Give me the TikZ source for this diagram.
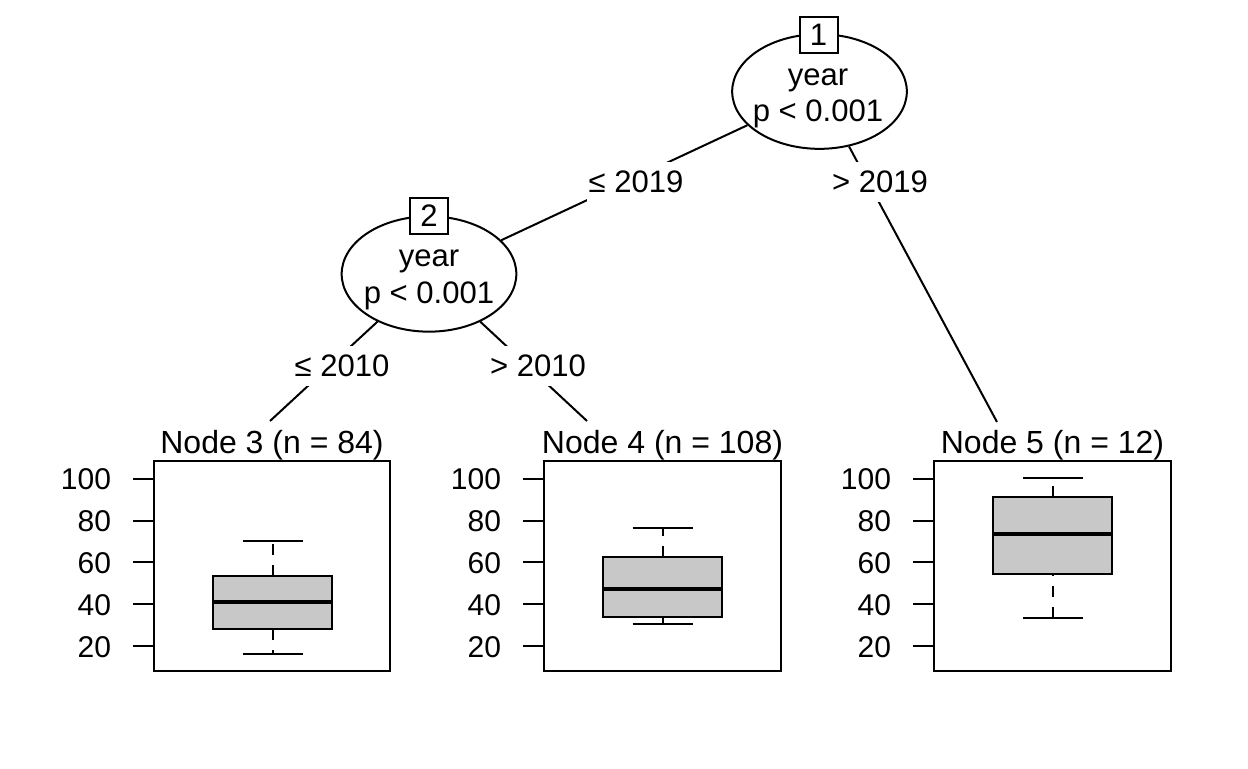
\documentclass[tikz,border=0pt]{standalone}
\usepackage{fontspec}
\setmainfont{Liberation Sans}
\usetikzlibrary{shapes.geometric}

\begin{document}
\begin{tikzpicture}[x=0.75pt,y=0.75pt,yscale=-1,xscale=1,
  font=\fontsize{23.3}{27}\selectfont, line width=1.5pt,
  split/.style={draw, ellipse, fill=white, minimum width=131pt, minimum height=86pt, inner sep=0pt},
  idbox/.style={draw, fill=white, minimum width=28.5pt, minimum height=27pt, inner sep=0pt},
  edgelab/.style={fill=white, inner xsep=1pt, inner ysep=0pt, minimum height=30pt},
  txt/.style={inner sep=0pt, anchor=base},
  title/.style={inner sep=0pt, anchor=base, font=\fontsize{24}{28}\selectfont},
  ticklab/.style={inner sep=0pt, anchor=east, font=\fontsize{22.5}{27}\selectfont},
  boxfill/.style={fill={rgb, 255:red, 200; green, 200; blue, 200 }},
  whisk/.style={dash pattern={on 8.25pt off 7.5pt}}
]
  \useasboundingbox (0,0) rectangle (1248,768);

  %Shape: Ellipse [id:node1]
  \node [split] (n1) at (819.5,91.5) {};
  \node [idbox] (id1) at (818.5,35) {1};
  %Shape: Ellipse [id:node2]
  \node [split, minimum height=86.5pt] (n2) at (429,274) {};
  \node [idbox] (id2) at (429,216) {2};

  %Coordinates: tops of terminal nodes
  \coordinate (t3) at (270,421);
  \coordinate (t4) at (587,421);
  \coordinate (t5) at (997,422);

  %Straight Lines [id:edges]
  \draw (n1) -- (n2);
  \draw (n1) -- (t5);
  \draw (n2) -- (t3);
  \draw (n2) -- (t4);

  % Text Node
  \node [txt] (v1) at (818,85) {year};
  % Text Node
  \node [txt] (p1) at (818,121) {p < 0.001};
  % Text Node
  \node [txt] (v2) at (429,266) {year};
  % Text Node
  \node [txt] (p2) at (429,303) {p < 0.001};

  % Text Node
  \node [edgelab] (e12) at (636,182) {≤ 2019};
  % Text Node
  \node [edgelab] (e15) at (880,182) {> 2019};
  % Text Node
  \node [edgelab] (e23) at (342,366) {≤ 2010};
  % Text Node
  \node [edgelab] (e24) at (538,366) {> 2010};

  %Shape: Rectangle [id:panel3]
  \draw (154,461) rectangle (390,671);
  \draw (154,478.6) -- (133,478.6) (154,520.5) -- (133,520.5) (154,562.3) -- (133,562.3) (154,604.1) -- (133,604.1) (154,646) -- (133,646);
  \node [ticklab] (a3a) at (112,479.6) {100};
  \node [ticklab] (a3b) at (112,521.5) {80};
  \node [ticklab] (a3c) at (112,563.3) {60};
  \node [ticklab] (a3d) at (112,605.1) {40};
  \node [ticklab] (a3e) at (112,647) {20};
  \draw [whisk] (272.5,576) -- (272.5,541);
  \draw [whisk] (272.5,629.3) -- (272.5,654);
  \draw (242.5,541) -- (302.5,541) (242.5,654) -- (302.5,654);
  \draw [boxfill] (213,576) rectangle (332,629.3);
  \draw [line width=3pt] (213,601.7) -- (332,601.7);
  \node [title] (h3) at (272,453) {Node 3 (n = 84)};

  %Shape: Rectangle [id:panel4]
  \draw (544,461) rectangle (781,671);
  \draw (544,478.6) -- (523,478.6) (544,520.5) -- (523,520.5) (544,562.3) -- (523,562.3) (544,604.1) -- (523,604.1) (544,646) -- (523,646);
  \node [ticklab] (a4a) at (502,479.6) {100};
  \node [ticklab] (a4b) at (502,521.5) {80};
  \node [ticklab] (a4c) at (502,563.3) {60};
  \node [ticklab] (a4d) at (502,605.1) {40};
  \node [ticklab] (a4e) at (502,647) {20};
  \draw [whisk] (662.5,556.7) -- (662.5,528.3);
  \draw [whisk] (662.5,616.7) -- (662.5,624.3);
  \draw (632.5,528.3) -- (692.5,528.3) (632.5,624.3) -- (692.5,624.3);
  \draw [boxfill] (603,556.7) rectangle (722,616.7);
  \draw [line width=3pt] (603,589.3) -- (722,589.3);
  \node [title] (h4) at (662.5,453) {Node 4 (n = 108)};

  %Shape: Rectangle [id:panel5]
  \draw (934,461) rectangle (1171,671);
  \draw (934,478.6) -- (913,478.6) (934,520.5) -- (913,520.5) (934,562.3) -- (913,562.3) (934,604.1) -- (913,604.1) (934,646) -- (913,646);
  \node [ticklab] (a5a) at (892,479.6) {100};
  \node [ticklab] (a5b) at (892,521.5) {80};
  \node [ticklab] (a5c) at (892,563.3) {60};
  \node [ticklab] (a5d) at (892,605.1) {40};
  \node [ticklab] (a5e) at (892,647) {20};
  \draw [whisk] (1052.5,497.3) -- (1052.5,478.3);
  \draw [whisk] (1052.5,618.3) -- (1052.5,574.3);
  \draw (1022.5,478.3) -- (1082.5,478.3) (1022.5,618.3) -- (1082.5,618.3);
  \draw [boxfill] (993,497.3) rectangle (1112,574.3);
  \draw [line width=3pt] (993,534) -- (1112,534);
  \node [title] (h5) at (1052.5,453) {Node 5 (n = 12)};

\end{tikzpicture}
\end{document}
